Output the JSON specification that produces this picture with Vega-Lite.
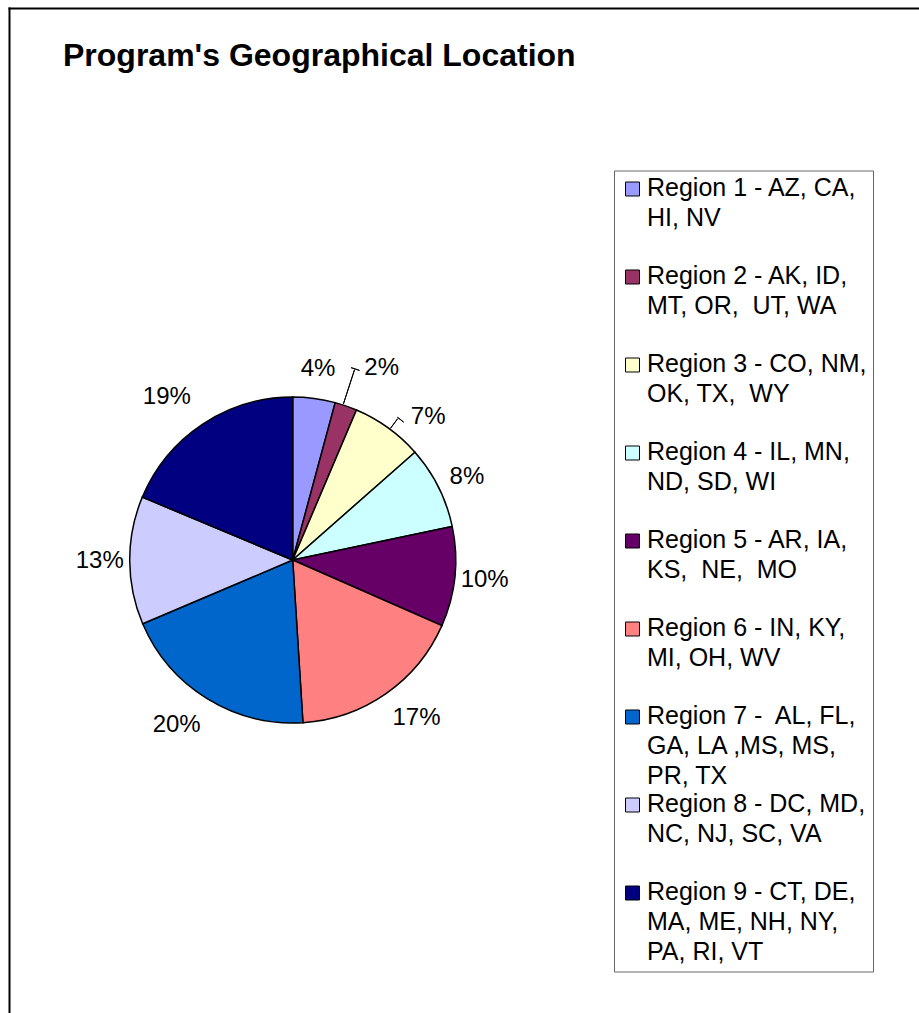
{
  "$schema": "https://vega.github.io/schema/vega-lite/v6.json",
  "width": 910,
  "height": 1005,
  "autosize": {"type": "none"},
  "padding": {"left": 9, "top": 8, "right": 0, "bottom": 0},
  "background": "white",
  "config": {
    "view": {"stroke": null},
    "font": "Liberation Sans",
    "style": {"guide-label": {"dy": 7, "lineHeight": 30}}
  },
  "title": {
    "text": "Program's Geographical Location",
    "anchor": "start",
    "font": "Liberation Sans",
    "fontSize": 32,
    "fontWeight": "bold",
    "color": "black",
    "dx": 54,
    "offset": -67.5
  },
  "data": {
    "values": [
      {"id": 1, "region": "Region 1 - AZ, CA,\nHI, NV", "share": 0.042},
      {"id": 2, "region": "Region 2 - AK, ID,\nMT, OR,\u00a0 UT, WA", "share": 0.022},
      {"id": 3, "region": "Region 3 - CO, NM,\nOK, TX,\u00a0 WY", "share": 0.071},
      {"id": 4, "region": "Region 4 - IL, MN,\nND, SD, WI", "share": 0.082},
      {"id": 5, "region": "Region 5 - AR, IA,\nKS,\u00a0 NE,\u00a0 MO", "share": 0.099},
      {"id": 6, "region": "Region 6 - IN, KY,\nMI, OH, WV", "share": 0.174},
      {"id": 7, "region": "Region 7 -\u00a0 AL, FL,\nGA, LA ,MS, MS,\nPR, TX", "share": 0.196},
      {"id": 8, "region": "Region 8 - DC, MD,\nNC, NJ, SC, VA", "share": 0.127},
      {"id": 9, "region": "Region 9 - CT, DE,\nMA, ME, NH, NY,\nPA, RI, VT", "share": 0.187}
    ]
  },
  "layer": [
    {
      "mark": {"type": "point", "opacity": 0},
      "encoding": {
        "x": {"field": "share", "type": "quantitative", "axis": {"orient": "top", "domain": true, "domainColor": "black", "domainWidth": 2, "domainCap": "square", "ticks": false, "labels": false, "grid": false, "title": null}},
        "y": {"field": "id", "type": "quantitative", "axis": {"orient": "left", "domain": true, "domainColor": "black", "domainWidth": 2, "domainCap": "square", "ticks": false, "labels": false, "grid": false, "title": null}}
      }
    },
    {
      "encoding": {
        "theta": {"field": "share", "type": "quantitative", "stack": true},
        "order": {"field": "id", "type": "quantitative"}
      },
      "layer": [
        {
          "mark": {"type": "arc", "x": 283.7, "y": 552, "outerRadius": 163, "stroke": "black", "strokeWidth": 1.5},
          "encoding": {
            "color": {
              "field": "region",
              "type": "nominal",
              "scale": {"range": ["#9999FF", "#993366", "#FFFFCC", "#CCFFFF", "#660066", "#FF8080", "#0066CC", "#CCCCFF", "#000080"]},
              "legend": {
                "orient": "none",
                "legendX": 605,
                "legendY": 162.5,
                "title": null,
                "columns": 1,
                "gridAlign": "all",
                "rowPadding": 2,
                "padding": 6,
                "symbolType": "square",
                "symbolSize": 196,
                "symbolStrokeColor": "black",
                "symbolStrokeWidth": 1,
                "symbolOpacity": 1,
                "symbolOffset": 0,
                "labelOffset": 2,
                "labelFont": "Liberation Sans",
                "labelFontSize": 25,
                "labelColor": "black",
                "labelLimit": 400,
                "labelBaseline": "alphabetic",
                "labelExpr": "split(datum.label, '\\n')",
                "strokeColor": "#666666",
                "fillColor": "white"
              }
            }
          }
        },
        {
          "mark": {"type": "text", "x": 283.7, "y": 552, "radius": 193, "font": "Liberation Sans", "fontSize": 24, "color": "black"},
          "encoding": {
            "text": {"condition": {"test": "indexof([1,5,8], datum.id) >= 0", "field": "share", "type": "quantitative", "format": ".0%"}, "value": ""}
          }
        },
        {
          "mark": {"type": "text", "x": 283.7, "y": 552, "radius": 193, "thetaOffset": 0.02, "font": "Liberation Sans", "fontSize": 24, "color": "black"},
          "encoding": {
            "text": {"condition": {"test": "datum.id == 4", "field": "share", "type": "quantitative", "format": ".0%"}, "value": ""}
          }
        },
        {
          "mark": {"type": "text", "x": 283.7, "y": 552, "radius": 201, "thetaOffset": -0.054, "font": "Liberation Sans", "fontSize": 24, "color": "black"},
          "encoding": {
            "text": {"condition": {"test": "datum.id == 6", "field": "share", "type": "quantitative", "format": ".0%"}, "value": ""}
          }
        },
        {
          "mark": {"type": "text", "x": 283.7, "y": 552, "radius": 202, "thetaOffset": 0.059, "font": "Liberation Sans", "fontSize": 24, "color": "black"},
          "encoding": {
            "text": {"condition": {"test": "datum.id == 7", "field": "share", "type": "quantitative", "format": ".0%"}, "value": ""}
          }
        },
        {
          "mark": {"type": "text", "x": 283.7, "y": 552, "radius": 206, "thetaOffset": -0.07, "font": "Liberation Sans", "fontSize": 24, "color": "black"},
          "encoding": {
            "text": {"condition": {"test": "datum.id == 9", "field": "share", "type": "quantitative", "format": ".0%"}, "value": ""}
          }
        },
        {
          "mark": {"type": "text", "x": 283.7, "y": 552, "radius": 212, "thetaOffset": 0.1, "font": "Liberation Sans", "fontSize": 24, "color": "black"},
          "encoding": {
            "text": {"condition": {"test": "datum.id == 2", "field": "share", "type": "quantitative", "format": ".0%"}, "value": ""}
          }
        },
        {
          "mark": {"type": "text", "x": 283.7, "y": 552, "radius": 197, "thetaOffset": 0.133, "font": "Liberation Sans", "fontSize": 24, "color": "black"},
          "encoding": {
            "text": {"condition": {"test": "datum.id == 3", "field": "share", "type": "quantitative", "format": ".0%"}, "value": ""}
          }
        }
      ]
    },
    {
      "transform": [{"stack": "share", "groupby": [], "sort": [{"field": "id", "order": "ascending"}], "as": ["s0", "s1"]}],
      "encoding": {
        "theta": {"field": "s0", "type": "quantitative"},
        "theta2": {"field": "s0"}
      },
      "layer": [
        {
          "mark": {"type": "arc", "x": 283.7, "y": 552, "radius": 200, "radius2": 164, "thetaOffset": 0.0503, "theta2Offset": 0.0503, "fill": "white", "fillOpacity": 0, "stroke": "black", "strokeWidth": 1},
          "encoding": {"strokeOpacity": {"condition": {"test": "datum.id == 2", "value": 1}, "value": 0}}
        },
        {
          "mark": {"type": "arc", "x": 283.7, "y": 552, "radius": 201, "radius2": 201, "thetaOffset": 0.0311, "theta2Offset": 0.0747, "fill": "white", "fillOpacity": 0, "stroke": "black", "strokeWidth": 1},
          "encoding": {"strokeOpacity": {"condition": {"test": "datum.id == 2", "value": 1}, "value": 0}}
        },
        {
          "mark": {"type": "arc", "x": 283.7, "y": 552, "radius": 176, "radius2": 164, "thetaOffset": 0.2367, "theta2Offset": 0.2367, "fill": "white", "fillOpacity": 0, "stroke": "black", "strokeWidth": 1},
          "encoding": {"strokeOpacity": {"condition": {"test": "datum.id == 3", "value": 1}, "value": 0}}
        },
        {
          "mark": {"type": "arc", "x": 283.7, "y": 552, "radius": 177, "radius2": 177, "thetaOffset": 0.2314, "theta2Offset": 0.2751, "fill": "white", "fillOpacity": 0, "stroke": "black", "strokeWidth": 1},
          "encoding": {"strokeOpacity": {"condition": {"test": "datum.id == 3", "value": 1}, "value": 0}}
        }
      ]
    }
  ]
}
